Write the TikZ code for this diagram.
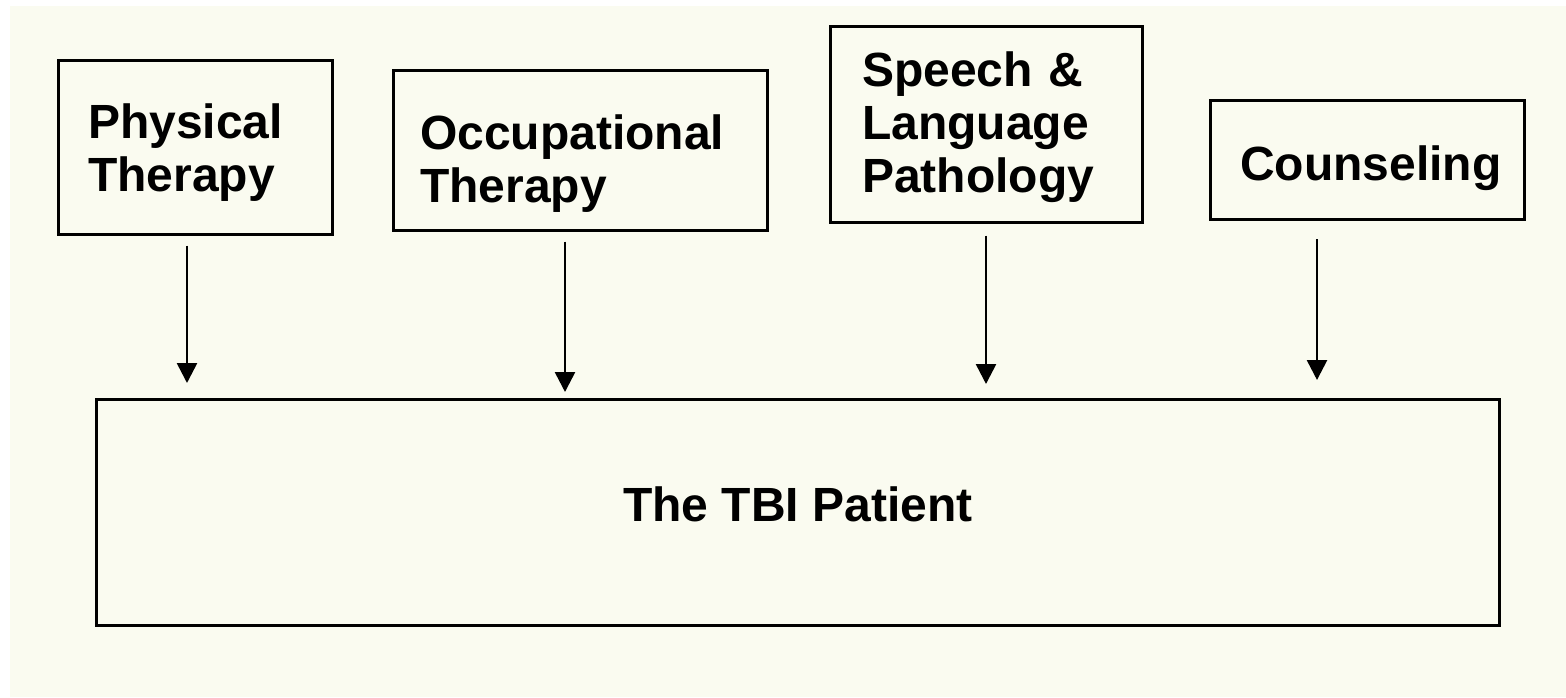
\documentclass[tikz,border=0pt]{standalone}
\usepackage{fontspec}
\setmainfont{Liberation Sans}
\usetikzlibrary{arrows.meta}
\definecolor{paper}{HTML}{FAFBF0}
\tikzset{therapy/.style={draw=black, line width=1.5pt, align=left, inner ysep=0pt,
		font=\bfseries\fontsize{24}{26.5}\selectfont},
	flow/.style={-{Triangle[width=10pt,length=10pt]}, line width=1.3pt, shorten <=5pt}}

\begin{document}
\begin{tikzpicture}[x=0.5pt,y=-0.5pt]
		\useasboundingbox (0,0) rectangle (1566,697); %fixes the page
		\fill[white] (0,0) rectangle (1566,697);
		\fill[paper] (10,6) rectangle (1566,697); %scanned paper
		\node[therapy, inner xsep=15pt, text width=107pt, text height=22.6pt, minimum height=87pt] (pt) at (195,147) {Physical\\Therapy};
		\node[therapy, inner xsep=13.5pt, text width=160pt, text height=30.6pt, minimum height=80pt] (ot) at (580,150) {Occupational\\Therapy};
		\node[therapy, inner xsep=16pt, text width=124pt, text height=20.6pt, minimum height=98pt] (slp) at (986,124) {Speech \&\\Language\\Pathology};
		\node[therapy, align=center, inner xsep=15pt, text width=127pt, text height=25.6pt, minimum height=59.5pt] (cou) at (1367,160) {Counseling};
		\node[therapy, align=center, minimum width=701.5pt, minimum height=113pt, text depth=8pt] (tbi) at (798,512) {The TBI Patient}; %the patient
		\coordinate (ptin) at (187,383);
		\coordinate (otin) at (565,392);
		\coordinate (slpin) at (986,384);
		\coordinate (couin) at (1317,380);
		\draw[flow] (pt.south -| ptin) -- (ptin); %arrows into the patient box
		\draw[flow] (ot.south -| otin) -- (otin);
		\draw[flow, shorten <=6pt] (slp.south -| slpin) -- (slpin);
		\draw[flow, shorten <=9pt] (cou.south -| couin) -- (couin);
	\end{tikzpicture}
\end{document}
